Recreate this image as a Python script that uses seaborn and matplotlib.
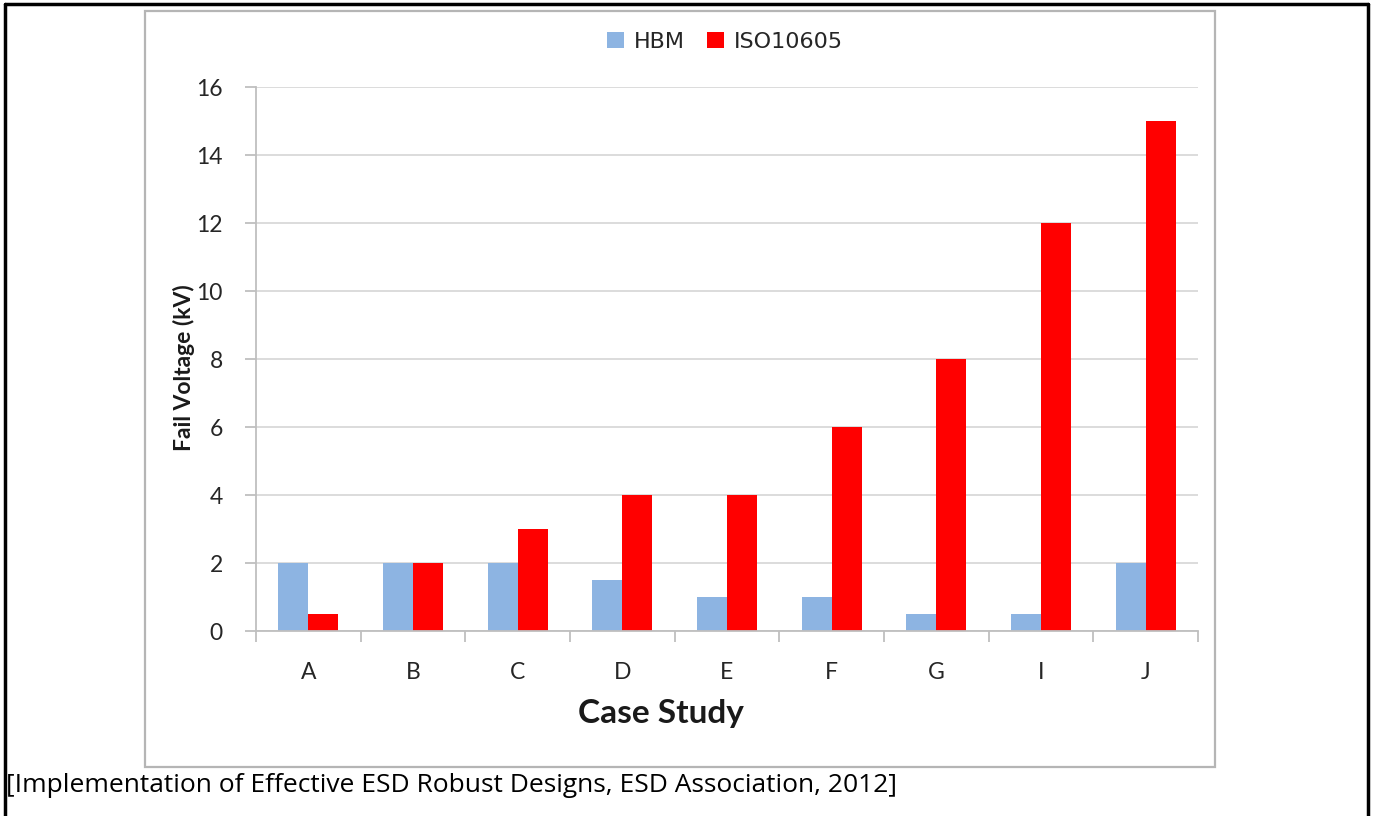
import matplotlib
matplotlib.use("Agg")
import matplotlib.pyplot as plt
from matplotlib.patches import Rectangle
from matplotlib.lines import Line2D
import seaborn as sns
import pandas as pd

# Fail voltages per case study
cases = ["A", "B", "C", "D", "E", "F", "G", "I", "J"]
hbm_kv = [2, 2, 2, 1.5, 1, 1, 0.5, 0.5, 2]
iso_kv = [0.5, 2, 3, 4, 4, 6, 8, 12, 15]
series = ["HBM", "ISO10605"]
colors = ["#8DB4E2", "#FF0000"]
y_ticks = [0, 2, 4, 6, 8, 10, 12, 14, 16]
caption = "[Implementation of Effective ESD Robust Designs, ESD Association, 2012]"

df = pd.DataFrame({
    "case": cases * 2,
    "kv": hbm_kv + iso_kv,
    "test": [series[0]] * len(cases) + [series[1]] * len(cases),
})

sns.set_theme(style="white")
plt.rcParams["font.family"] = ["Lato", "DejaVu Sans"]

W, H = 1375, 816
fig = plt.figure(figsize=(W / 100, H / 100), dpi=100)
fig.patch.set_facecolor("white")

def fx(px):
    return px / W

def fy(py):
    return 1 - py / H

# outer black border (open at the bottom)
fig.add_artist(Line2D([fx(5), fx(5)], [fy(4), 0], color="black", lw=2.5))
fig.add_artist(Line2D([fx(1368), fx(1368)], [fy(4), 0], color="black", lw=2.5))
fig.add_artist(Line2D([fx(5), fx(1368)], [fy(4), fy(4)], color="black", lw=2.5))

# chart frame
fig.add_artist(Rectangle((fx(145), fy(767)), fx(1215) - fx(145), fy(11) - fy(767),
                         fill=False, edgecolor="#B5B5B5", lw=1.6))

ax = fig.add_axes([fx(256), fy(631), fx(1198) - fx(256), fy(87) - fy(631)])
sns.barplot(data=df, x="case", y="kv", hue="test", hue_order=series,
            palette=colors, width=0.573, saturation=1, ax=ax, legend=False)
for p in ax.patches:
    p.set_edgecolor("none")

ax.set_xlim(-0.5, len(cases) - 0.5)
ax.set_ylim(0, 16)
ax.set_yticks(y_ticks)
ax.set_yticklabels([str(t) for t in y_ticks])
ax.yaxis.grid(True, color="#D9D9D9", lw=1.3)
ax.set_axisbelow(True)
for s in ["top", "right"]:
    ax.spines[s].set_visible(False)
for s in ["left", "bottom"]:
    ax.spines[s].set_color("#BFBFBF")
    ax.spines[s].set_linewidth(1.3)

# category-boundary ticks on x, outward ticks on y
ax.set_xticks([i - 0.5 for i in range(len(cases) + 1)], minor=False)
ax.set_xticklabels([])
ax.set_xticks(range(len(cases)), minor=True)
ax.set_xticklabels(cases, minor=True)
ax.tick_params(axis="x", which="major", length=8, color="#BFBFBF", width=1.3, direction="out", bottom=True)
ax.tick_params(axis="x", which="minor", length=0, pad=22, labelsize=16.5, labelcolor="#262626")
ax.tick_params(axis="y", length=8, color="#BFBFBF", width=1.3, direction="out", left=True,
               pad=16, labelsize=16.5, labelcolor="#262626")

ax.set_xlabel("Case Study", fontsize=24, fontweight="bold", color="#1a1a1a")
ax.xaxis.set_label_coords(0.43, -0.125)
ax.set_ylabel("Fail Voltage (kV)", fontsize=16.5, fontweight="bold", color="#1a1a1a")
ax.yaxis.set_label_coords(-0.065, 0.485)

handles = [Rectangle((0, 0), 1, 1, facecolor=c, edgecolor="none") for c in colors]
fig.legend(handles, series, loc="center", bbox_to_anchor=(fx(725), fy(42)), ncol=2,
           frameon=False, handlelength=0.75, handleheight=0.75,
           handletextpad=0.45, columnspacing=1.0, labelcolor="#262626",
           prop={"family": ["DejaVu Sans"], "size": 16})

fig.text(fx(6), fy(785), caption, fontsize=19, color="black",
         ha="left", va="center", family=["Open Sans", "DejaVu Sans"])

fig.savefig("out.png", dpi=100, facecolor="white")
